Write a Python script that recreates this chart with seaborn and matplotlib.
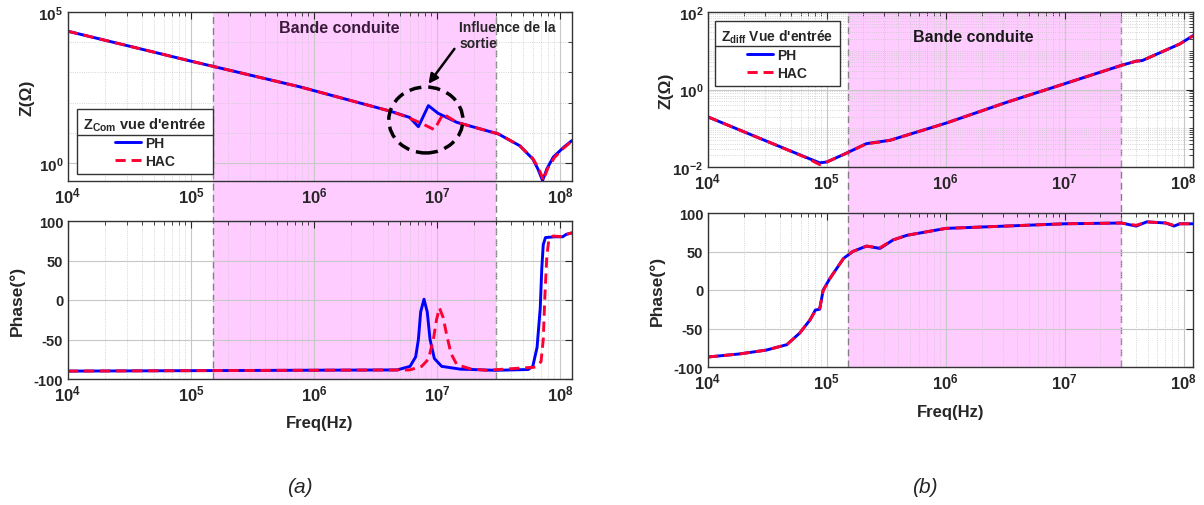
import numpy as np
import pandas as pd
import seaborn as sns
import matplotlib.pyplot as plt
import matplotlib.transforms as mtransforms
from matplotlib.patches import Rectangle, Ellipse
from matplotlib.lines import Line2D
from matplotlib.ticker import FixedLocator, LogLocator, NullFormatter

# ---- (a) common-mode input impedance ----
zcom_ph_f = [1e4, 1e5, 7.7e5, 4.15e6, 6.0e6, 7.05e6, 8.5e6, 1.02e7, 1.45e7, 3.15e7,
             4.7e7, 6.0e7, 6.6e7, 7.0e7, 7.2e7, 7.5e7, 7.8e7, 8.8e7, 1.07e8, 1.25e8]
zcom_ph = [23000, 2350, 330, 52, 32, 15.8, 79, 44, 22, 9.1,
           3.7, 1.35, 0.63, 0.35, 0.26, 0.4, 0.63, 1.55, 3.3, 5.5]
zcom_hac_f = [1e4, 1e5, 7.7e5, 4.15e6, 5.5e6, 7.2e6, 9.5e6, 1.12e7, 1.45e7, 3.15e7,
              4.7e7, 6.0e7, 6.7e7, 7.1e7, 7.35e7, 7.6e7, 8.0e7, 9.0e7, 1.07e8, 1.25e8]
zcom_hac = [23000, 2350, 330, 52, 35, 22, 12.6, 42, 22, 9.1,
            3.7, 1.4, 0.66, 0.37, 0.26, 0.42, 0.7, 1.5, 3.1, 5.3]

phcom_ph_f = [1e4, 4.73e6, 6.03e6, 6.7e6, 7.05e6, 7.36e6, 7.83e6, 8.32e6, 8.77e6, 9.5e6,
              1.09e7, 1.54e7, 3e7, 5.5e7, 6.0e7, 6.5e7, 6.9e7, 7.1e7, 7.3e7, 7.6e7,
              9.0e7, 1.05e8, 1.12e8, 1.25e8]
phcom_ph = [-90, -88.5, -84, -72, -50, -15, 1, -15, -50, -74,
            -84, -87.5, -89, -88, -84, -60, -10, 40, 70, 79,
            80, 80, 83, 85]
phcom_hac_f = [1e4, 6e6, 7.5e6, 8.5e6, 9.33e6, 9.9e6, 1.045e7, 1.12e7, 1.2e7, 1.3e7,
               1.45e7, 1.86e7, 2.5e7, 6.3e7, 7.0e7, 7.3e7, 7.5e7, 7.8e7, 8.1e7, 8.8e7,
               1.05e8, 1.12e8, 1.25e8]
phcom_hac = [-90, -88.5, -84, -75, -50, -25, -10, -22, -45, -68,
             -82, -87, -89, -85, -78, -50, 0, 55, 76, 81,
             80, 83, 85]

# ---- (b) differential input impedance ----
zdiff_f = [1e4, 3.5e4, 6.75e4, 8.7e4, 1e5, 1.38e5, 2.15e5, 2.8e5, 3.4e5, 1e6,
           3.2e6, 1e7, 3e7, 4e7, 4.5e7, 9.3e7, 1.2e8]
zdiff_ph = [0.196, 0.040, 0.0175, 0.0128, 0.0135, 0.021, 0.040, 0.045, 0.049, 0.135,
            0.46, 1.41, 4.2, 5.4, 5.6, 15, 24.5]
zdiff_hac = [0.196, 0.040, 0.0172, 0.0115, 0.0135, 0.021, 0.040, 0.044, 0.049, 0.135,
             0.46, 1.41, 4.2, 5.4, 5.6, 15, 24.5]

phdiff_f = [1e4, 1.85e4, 3.1e4, 4.6e4, 5.9e4, 7.2e4, 8e4, 8.7e4, 9.3e4, 1.06e5, 1.38e5,
            1.65e5, 2.15e5, 2.8e5, 3.6e5, 4.7e5, 1e6, 1e7, 3e7, 4e7, 4.9e7, 7.1e7,
            8.3e7, 9.3e7, 1.2e8]
phdiff_ph = [-87, -83, -78, -71, -56, -39, -26, -25, 0, 15, 41,
             50, 57, 54, 65, 71, 80, 86, 87, 83, 88.5, 87,
             83, 86, 86]
phdiff_hac = [-87, -83, -78, -71, -56, -39, -27, -24, -1, 15, 41,
              50, 57, 55, 65, 71, 80, 86, 87, 84, 88.5, 87,
              84, 86, 86]

band_lo, band_hi = 1.5e5, 3e7
BLUE, RED, PINK = '#0000ff', '#ff0033', '#ffccff'
DARK = '#262626'

sns.set_style('white')
plt.rcParams['font.family'] = ['Liberation Sans', 'DejaVu Sans']
plt.rcParams['font.weight'] = 'bold'
plt.rcParams['mathtext.fontset'] = 'custom'
plt.rcParams['mathtext.rm'] = 'Liberation Sans:bold'
plt.rcParams['mathtext.bf'] = 'Liberation Sans:bold'
plt.rcParams['mathtext.it'] = 'Liberation Sans:bold:italic'

W, H = 1204, 506
fig = plt.figure(figsize=(W / 100, H / 100), dpi=100)
fig.patch.set_facecolor('white')


def px_axes(x0, y0, x1, y1):
    return fig.add_axes([x0 / W, 1 - y1 / H, (x1 - x0) / W, (y1 - y0) / H])


ax_a1 = px_axes(68, 13, 572, 182)
ax_a2 = px_axes(68, 222, 572, 380)
ax_b1 = px_axes(708, 13, 1193, 168)
ax_b2 = px_axes(708, 214, 1193, 368)


def long_df(f_ph, v_ph, f_hac, v_hac):
    return pd.concat([pd.DataFrame({'f': f_ph, 'v': v_ph, 'model': 'PH'}),
                      pd.DataFrame({'f': f_hac, 'v': v_hac, 'model': 'HAC'})],
                     ignore_index=True)


def draw(ax, df, xmax):
    sns.lineplot(data=df, x='f', y='v', hue='model', style='model',
                 hue_order=['PH', 'HAC'], style_order=['PH', 'HAC'],
                 palette={'PH': BLUE, 'HAC': RED},
                 dashes={'PH': '', 'HAC': (3.5, 2)},
                 linewidth=2.1, estimator=None, legend=False, ax=ax)
    ax.set_facecolor('none')
    ax.set_xscale('log')
    dec = [1e4, 1e5, 1e6, 1e7, 1e8]
    ax.set_xticks(dec)
    ax.set_xticklabels([rf'$\mathbf{{10^{{{int(np.log10(d))}}}}}$' for d in dec], fontsize=12)
    ax.xaxis.set_minor_locator(LogLocator(base=10, subs=np.arange(2, 10)))
    ax.xaxis.set_minor_formatter(NullFormatter())
    ax.set_xlim(1e4, xmax)
    ax.set_xlabel('')
    ax.set_ylabel('')
    ax.grid(True, which='major', color='#c8c8c8', lw=0.8, ls='-')
    ax.grid(True, which='minor', axis='x', color='#c8c8c8', lw=0.6, ls=':')
    ax.set_axisbelow(True)
    ax.tick_params(which='both', direction='in', top=True, right=True,
                   color=DARK, labelcolor=DARK)
    ax.tick_params(which='major', length=5, width=0.8)
    ax.tick_params(which='minor', length=3, width=0.6)
    for s in ax.spines.values():
        s.set_color('#333333')
        s.set_linewidth(1.0)


def phase_axis(ax):
    ax.set_ylim(-100, 100)
    ax.set_yticks([-100, -50, 0, 50, 100])
    ax.set_yticklabels(['-100', '-50', '0', '50', '100'], fontsize=10.5)


def band(ax_top, ax_bot):
    tr = mtransforms.blended_transform_factory(ax_top.transData, fig.transFigure)
    y0 = ax_bot.get_position().y0
    y1 = ax_top.get_position().y1
    fig.add_artist(Rectangle((band_lo, y0), band_hi - band_lo, y1 - y0, transform=tr,
                             facecolor=PINK, edgecolor='none', zorder=-2))
    for fx in (band_lo, band_hi):
        fig.add_artist(Line2D([fx, fx], [y0, y1], transform=tr, color='#808080',
                              lw=1.0, ls=(0, (5, 3)), zorder=-1))


# ---------- panel (a) ----------
draw(ax_a1, long_df(zcom_ph_f, zcom_ph, zcom_hac_f, zcom_hac), 1.25e8)
ax_a1.set_yscale('log')
ax_a1.set_ylim(10 ** -0.6, 1e5)
ax_a1.yaxis.set_major_locator(FixedLocator([1, 1e5]))
ax_a1.set_yticklabels([r'$\mathbf{10^{0}}$', r'$\mathbf{10^{5}}$'], fontsize=11)
ax_a1.yaxis.set_minor_locator(FixedLocator([10, 100, 1e3, 1e4]))
ax_a1.yaxis.set_minor_formatter(NullFormatter())
ax_a1.grid(True, which='minor', axis='y', color='#c8c8c8', lw=0.6, ls=':')
ax_a1.set_ylabel('Z(Ω)', fontsize=12.5, fontweight='bold', color=DARK)
ax_a1.yaxis.set_label_coords(-0.066, 0.5)

draw(ax_a2, long_df(phcom_ph_f, phcom_ph, phcom_hac_f, phcom_hac), 1.25e8)
phase_axis(ax_a2)
ax_a2.set_ylabel('Phase(°)', fontsize=12.5, fontweight='bold', color=DARK)
ax_a2.yaxis.set_label_coords(-0.085, 0.5)
ax_a2.set_xlabel('Freq(Hz)', fontsize=12, fontweight='bold', color=DARK)
ax_a2.xaxis.set_label_coords(0.5, -0.225)
band(ax_a1, ax_a2)

ax_a1.text(0.538, 0.911, 'Bande conduite', transform=ax_a1.transAxes, ha='center',
           va='center', fontsize=11.5, fontweight='bold', color='#3a1a3a')
ax_a1.add_patch(Ellipse((0.710, 0.361), 0.147, 0.39, transform=ax_a1.transAxes,
                        fill=False, edgecolor='black', lw=2.5, ls=(0, (3.5, 2)), zorder=5))
ax_a1.annotate('', xy=(0.712, 0.562), xytext=(0.770, 0.795), xycoords='axes fraction',
               textcoords='axes fraction',
               arrowprops=dict(arrowstyle='-|>', color='black', lw=1.8, mutation_scale=14))
ax_a1.text(0.776, 0.955, 'Influence de la\nsortie', transform=ax_a1.transAxes,
           ha='left', va='top', fontsize=10, fontweight='bold', color=DARK, linespacing=1.2)

leg_a = ax_a1.legend(handles=ax_a1.lines[:2], labels=['PH', 'HAC'],
                     title=r"$\mathbf{Z}_{\mathbf{Com}}$ vue d'entrée",
                     loc='lower left', bbox_to_anchor=(0.018, 0.041), borderaxespad=0,
                     frameon=True, fancybox=False, edgecolor='#333333', framealpha=1,
                     fontsize=10, title_fontsize=10.5, handlelength=1.9,
                     handletextpad=0.3, borderpad=0.45, labelspacing=0.25)

# ---------- panel (b) ----------
draw(ax_b1, long_df(zdiff_f, zdiff_ph, zdiff_f, zdiff_hac), 1.2e8)
ax_b1.set_yscale('log')
ax_b1.set_ylim(1e-2, 1e2)
ax_b1.yaxis.set_major_locator(FixedLocator([1e-2, 1, 1e2]))
ax_b1.set_yticklabels([r'$\mathbf{10^{-2}}$', r'$\mathbf{10^{0}}$', r'$\mathbf{10^{2}}$'],
                      fontsize=11)
ax_b1.yaxis.set_minor_locator(LogLocator(base=10, subs=np.arange(1, 10)))
ax_b1.yaxis.set_minor_formatter(NullFormatter())
ax_b1.grid(True, which='minor', axis='y', color='#c8c8c8', lw=0.6, ls=':')
ax_b1.set_ylabel('Z(Ω)', fontsize=12.5, fontweight='bold', color=DARK)
ax_b1.yaxis.set_label_coords(-0.072, 0.5)

draw(ax_b2, long_df(phdiff_f, phdiff_ph, phdiff_f, phdiff_hac), 1.2e8)
phase_axis(ax_b2)
ax_b2.set_ylabel('Phase(°)', fontsize=12.5, fontweight='bold', color=DARK)
ax_b2.yaxis.set_label_coords(-0.089, 0.5)
ax_b2.set_xlabel('Freq(Hz)', fontsize=12, fontweight='bold', color=DARK)
ax_b2.xaxis.set_label_coords(0.5, -0.24)
band(ax_b1, ax_b2)

ax_b1.text(0.546, 0.845, 'Bande conduite', transform=ax_b1.transAxes, ha='center',
           va='center', fontsize=11.5, fontweight='bold', color='#1a1a1a')

leg_b = ax_b1.legend(handles=ax_b1.lines[:2], labels=['PH', 'HAC'],
                     title=r"$\mathbf{Z}_{\mathbf{diff}}$ Vue d'entrée",
                     loc='upper left', bbox_to_anchor=(0.014, 0.942), borderaxespad=0,
                     frameon=True, fancybox=False, edgecolor='#333333', framealpha=1,
                     fontsize=10, title_fontsize=10, handlelength=1.9,
                     handletextpad=0.3, borderpad=0.45, labelspacing=0.25)

for leg in (leg_a, leg_b):
    leg.get_frame().set_linewidth(1.0)

fig.text(300 / W, 1 - 488 / H, '(a)', fontstyle='italic', fontweight='normal',
         fontsize=15, ha='center', va='center')
fig.text(925 / W, 1 - 488 / H, '(b)', fontstyle='italic', fontweight='normal',
         fontsize=15, ha='center', va='center')

# separator line under the legend titles
fig.canvas.draw()
r = fig.canvas.get_renderer()
for leg in (leg_a, leg_b):
    fb = leg.get_frame().get_window_extent(r)
    tb = leg.get_title().get_window_extent(r)
    t0 = leg.get_texts()[0].get_window_extent(r)
    y = (tb.y0 + t0.y1) / 2
    fig.add_artist(Line2D([fb.x0 / W, fb.x1 / W], [y / H, y / H], transform=fig.transFigure,
                          color='#333333', lw=1.0))

fig.savefig('out.png', dpi=100)
